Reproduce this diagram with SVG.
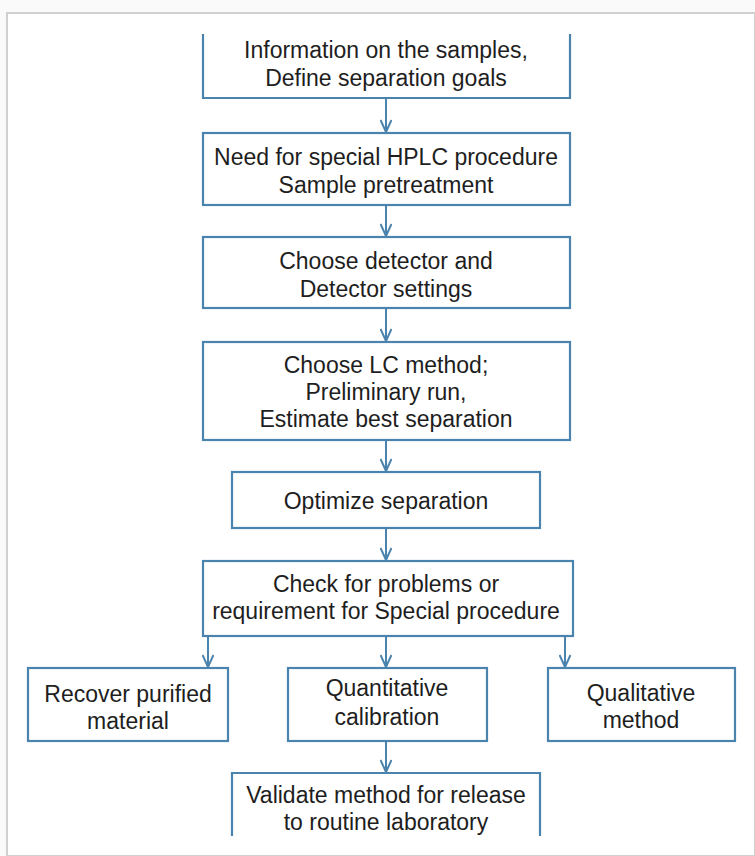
<svg xmlns="http://www.w3.org/2000/svg" width="755" height="856" viewBox="0 0 755 856">
<style>
.box{fill:#fff;stroke:#4a83ad;stroke-width:2.2}
.open{fill:none;stroke:#4a83ad;stroke-width:2.2}
.t{font-family:"Liberation Sans",Arial,sans-serif;font-size:23px;fill:#1e1e1e;text-anchor:middle}
.c{stroke:#4a83ad;stroke-width:2;fill:none}
</style>
<defs>
<marker id="ah" viewBox="0 0 14 12" refX="13" refY="6" markerWidth="14" markerHeight="12" markerUnits="userSpaceOnUse" orient="auto">
<path d="M1,0.5 L13,6 L1,11.5" fill="none" stroke="#4a83ad" stroke-width="2"/>
</marker>
</defs>
<rect x="0" y="0" width="755" height="856" fill="#fafafa"/>
<rect x="7" y="13" width="748" height="843" fill="#fff" stroke="#d0d0d0" stroke-width="2"/>
<g id="connectors">
<line class="c" x1="386" y1="98" x2="386" y2="132" marker-end="url(#ah)"/>
<line class="c" x1="386" y1="205" x2="386" y2="236" marker-end="url(#ah)"/>
<line class="c" x1="386" y1="308" x2="386" y2="341" marker-end="url(#ah)"/>
<line class="c" x1="386" y1="440" x2="386" y2="471" marker-end="url(#ah)"/>
<line class="c" x1="386" y1="528" x2="386" y2="560" marker-end="url(#ah)"/>
<line class="c" x1="208" y1="636" x2="208" y2="667" marker-end="url(#ah)"/>
<line class="c" x1="386" y1="636" x2="386" y2="667" marker-end="url(#ah)"/>
<line class="c" x1="565" y1="636" x2="565" y2="667" marker-end="url(#ah)"/>
<line class="c" x1="386" y1="741" x2="386" y2="772" marker-end="url(#ah)"/>
</g>
<g id="n1">
<rect x="203" y="30" width="367" height="68" fill="#fff"/>
<path class="open" d="M203,34 V98 H570 V34"/>
<text class="t" x="386" y="58">Information on the samples,</text>
<text class="t" x="386" y="86">Define separation goals</text>
</g>
<g id="n2">
<rect class="box" x="203" y="133" width="367" height="72"/>
<text class="t" x="386" y="165">Need for special HPLC procedure</text>
<text class="t" x="386" y="193">Sample pretreatment</text>
</g>
<g id="n3">
<rect class="box" x="203" y="237" width="367" height="71"/>
<text class="t" x="386" y="269">Choose detector and</text>
<text class="t" x="386" y="297">Detector settings</text>
</g>
<g id="n4">
<rect class="box" x="203" y="342" width="367" height="98"/>
<text class="t" x="386" y="373">Choose LC method;</text>
<text class="t" x="386" y="400">Preliminary run,</text>
<text class="t" x="386" y="427">Estimate best separation</text>
</g>
<g id="n5">
<rect class="box" x="232" y="472" width="308" height="56"/>
<text class="t" x="386" y="509">Optimize separation</text>
</g>
<g id="n6">
<rect class="box" x="203" y="561" width="370" height="75"/>
<text class="t" x="386" y="592">Check for problems or</text>
<text class="t" x="386" y="619">requirement for Special procedure</text>
</g>
<g id="n7">
<rect class="box" x="28" y="668" width="200" height="73"/>
<text class="t" x="128" y="702">Recover purified</text>
<text class="t" x="128" y="729">material</text>
</g>
<g id="n8">
<rect class="box" x="288" y="668" width="199" height="73"/>
<text class="t" x="387" y="696">Quantitative</text>
<text class="t" x="387" y="725">calibration</text>
</g>
<g id="n9">
<rect class="box" x="548" y="668" width="187" height="73"/>
<text class="t" x="641" y="701">Qualitative</text>
<text class="t" x="641" y="728">method</text>
</g>
<g id="n10">
<rect x="232" y="773" width="308" height="64" fill="#fff"/>
<path class="open" d="M232,836 V773 H540 V836"/>
<text class="t" x="386" y="803">Validate method for release</text>
<text class="t" x="386" y="830">to routine laboratory</text>
</g>
</svg>
